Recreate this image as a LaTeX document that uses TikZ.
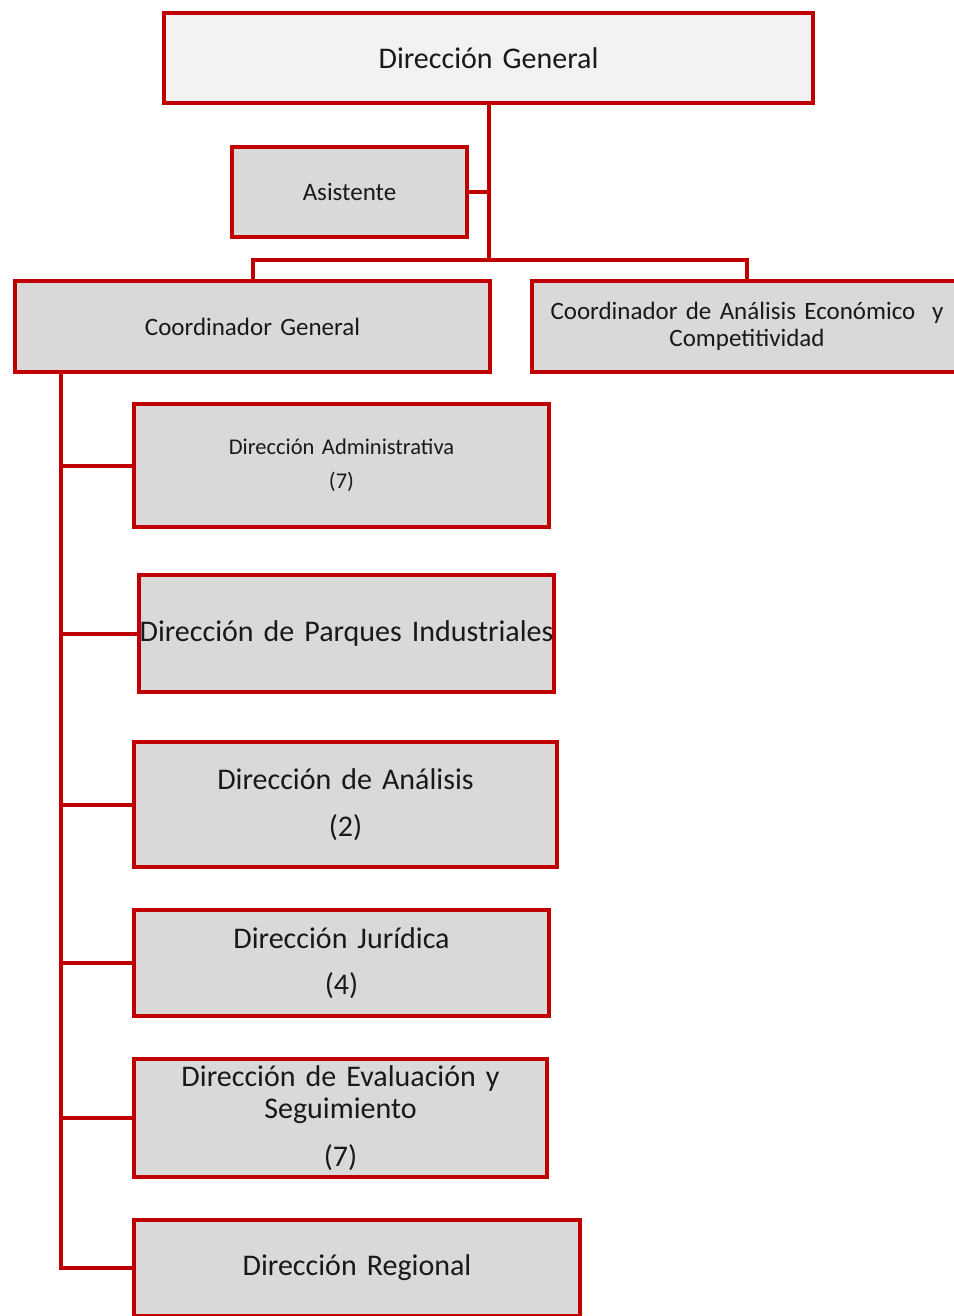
\documentclass[tikz,border=0pt]{standalone}
\usepackage{fontspec}
\setmainfont{Carlito}
\definecolor{linered}{HTML}{C00000}
\definecolor{boxgray}{HTML}{D9D9D9}
\definecolor{topgray}{HTML}{F2F2F2}
\newcommand{\fs}[2]{\fontsize{#1}{#2}\selectfont}
\begin{document}
\begin{tikzpicture}[x=1pt,y=1pt,
  unit/.style={draw=linered, line width=4pt, fill=boxgray, inner sep=0pt, align=center, text=black!90},
  link/.style={draw=linered, line width=4pt}]
\useasboundingbox (0,0) rectangle (953,-1316);
\node[unit, fill=topgray, minimum width=649, minimum height=90, text width=640, font=\fs{30}{36}] (1) at (488.5,-58) {Dirección General};
\node[unit, minimum width=235, minimum height=90, text width=230, font=\fs{25}{30}] (2) at (349.5,-192) {Asistente};
\node[unit, minimum width=475, minimum height=91, text width=470, font=\fs{25}{30}] (3) at (252.5,-326.5) {Coordinador General};
\node[unit, minimum width=430, minimum height=91, text width=425, font=\fs{25}{27}] (4) at (747,-326.5) {Coordinador de Análisis Económico \ y\\Competitividad};
\node[unit, minimum width=415, minimum height=123, text width=410, font=\fs{22.5}{34}] (5) at (341.5,-465.5) {Dirección Administrativa\\(7)};
\node[unit, minimum width=415, minimum height=117, text width=415, font=\fs{30}{36}] (6) at (346.5,-633.5) {Dirección de Parques Industriales};
\node[unit, minimum width=423, minimum height=125, text width=418, font=\fs{30}{47}] (7) at (345.5,-804.5) {Dirección de Análisis\\(2)};
\node[unit, minimum width=415, minimum height=106, text width=410, font=\fs{30}{46}] (8) at (341.5,-963) {Dirección Jurídica\\(4)};
\node[unit, minimum width=413, minimum height=118, text width=408, font=\fs{30}{32}] (9) at (340.5,-1118) {Dirección de Evaluación y\\Seguimiento\\[16pt](7)};
\node[unit, minimum width=446, minimum height=96, text width=440, font=\fs{30}{36}] (10) at (357,-1268) {Dirección Regional};

\coordinate (j) at (488.5,-260);
\coordinate (s) at (61,-374);
\path[link] (1) -- (j);
\path[link] (1.south) |- (2.east);
\path[link] (3.north) |- (j) -| (4.north);
\foreach \n in {5,...,10}
  \path[link] (s) |- (\n.west);
\end{tikzpicture}
\end{document}
